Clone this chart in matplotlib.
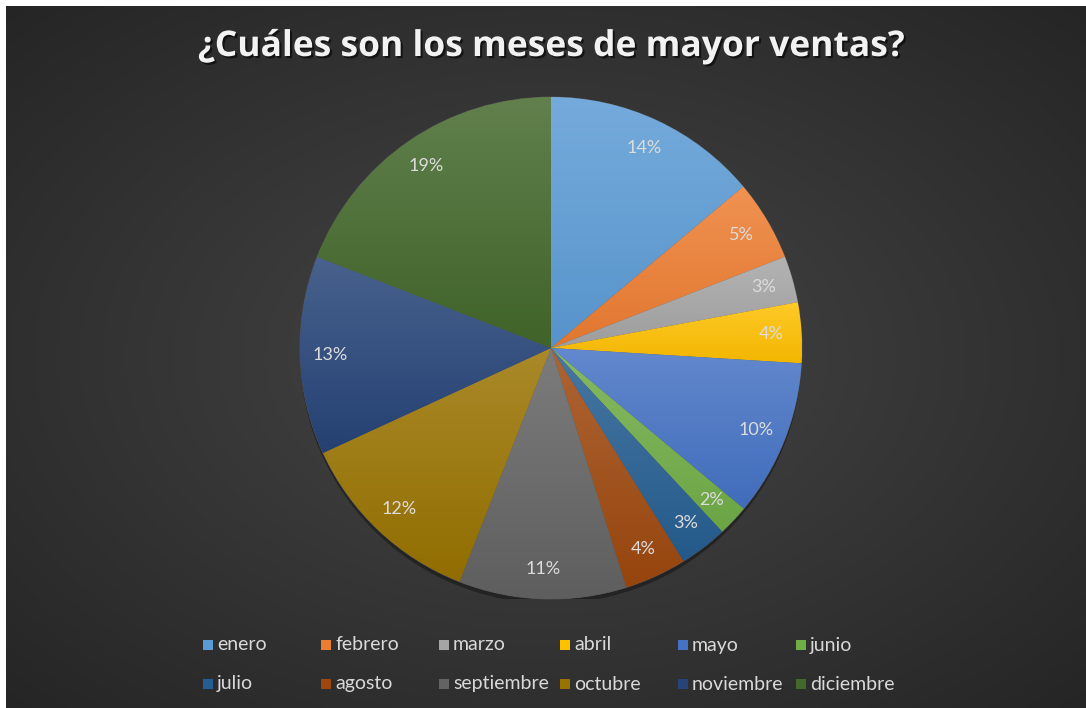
import numpy as np
import matplotlib
matplotlib.use("Agg")
import matplotlib.pyplot as plt
import matplotlib.patheffects as pe
from matplotlib.colors import to_rgb
from matplotlib.patches import Rectangle, Circle

# datos (porcentaje de ventas por mes)
meses = ["enero", "febrero", "marzo", "abril", "mayo", "junio",
         "julio", "agosto", "septiembre", "octubre", "noviembre", "diciembre"]
ventas = [13.9, 5.2, 3.0, 3.9, 10.1, 2.0, 3.1, 4.0, 10.8, 12.2, 12.8, 19.1]
colores = ["#5B9BD5", "#ED7D31", "#A5A5A5", "#FFC000", "#4472C4", "#70AD47",
           "#255E91", "#9E480E", "#636363", "#997300", "#264478", "#43682B"]

plt.rcParams['font.family'] = ['Lato', 'DejaVu Sans']

W, H = 1086, 708
fig = plt.figure(figsize=(W / 100, H / 100), dpi=100)
fig.patch.set_facecolor("white")

# fondo con degradado radial
bg = fig.add_axes([6 / W, 0, (W - 6) / W, (H - 6) / H])
bg.set_axis_off()
yy, xx = np.mgrid[0:1:300j, 0:1:460j]
d = np.sqrt(((xx - 0.5) / 0.75) ** 2 + ((yy - 0.5) / 0.75) ** 2)
d = np.clip(d / 0.95, 0, 1)
c0, c1 = np.array([0.275, 0.275, 0.275]), np.array([0.145, 0.145, 0.145])
img = c0[None, None, :] * (1 - d[..., None]) + c1[None, None, :] * d[..., None]
bg.imshow(img, extent=[0, 1, 0, 1], aspect="auto")

# pastel
cx, cy, r = 551, 348, 251
ax = fig.add_axes([(cx - r) / W, (H - cy - r) / H, 2 * r / W, 2 * r / H])
wedges, textos, autotextos = ax.pie(
    ventas, colors=colores, startangle=90, counterclock=False,
    autopct="%.0f%%", pctdistance=0.88, radius=1,
    wedgeprops=dict(linewidth=0.6, edgecolor="#555555"),
    textprops=dict(color="#dcdcdc", fontsize=13))
ax.set_axis_off()

sombra = Circle((0.0, -0.018), 1.0, facecolor="black", alpha=0.35, zorder=0)
ax.add_patch(sombra)

grad = np.linspace(0, 1, 256)[:, None]
for w, col in zip(wedges, colores):
    base = np.array(to_rgb(col))
    top = base + (1 - base) * 0.16
    bot = base * 0.95
    g = top[None, None, :] * (1 - grad[..., None]) + bot[None, None, :] * grad[..., None]
    g = np.repeat(g, 2, axis=1)
    bb = w.get_path().get_extents()
    im = ax.imshow(g, extent=[bb.x0, bb.x1, bb.y0, bb.y1], aspect="auto",
                   zorder=w.get_zorder() + 0.1)
    im.set_clip_path(w)
for t in autotextos:
    t.set_zorder(5)
ax.set_xlim(-1, 1)
ax.set_ylim(-1, 1)

# título
fig.text(551 / W, 1 - 47 / H, "¿Cuáles son los meses de mayor ventas?",
         ha="center", va="center", color="#f2f2f2", fontsize=25.5,
         fontweight="bold", family=["Open Sans", "DejaVu Sans"],
         path_effects=[pe.withSimplePatchShadow(offset=(1.5, -1.5),
                                                 shadow_rgbFace="black", alpha=0.6)])

# leyenda
col_x = [208, 326, 444, 565, 683, 801]
row_y = [645, 684]
for i, (m, col) in enumerate(zip(meses, colores)):
    x = col_x[i % 6]
    y = row_y[i // 6]
    fig.patches.append(Rectangle(((x - 5) / W, 1 - (y + 5) / H), 10 / W, 10 / H,
                                 transform=fig.transFigure, facecolor=col,
                                 edgecolor="none"))
    fig.text((x + 9) / W, 1 - y / H, m, ha="left", va="center",
             color="#d9d9d9", fontsize=14)

fig.savefig("out.png", dpi=100, facecolor=fig.get_facecolor())
